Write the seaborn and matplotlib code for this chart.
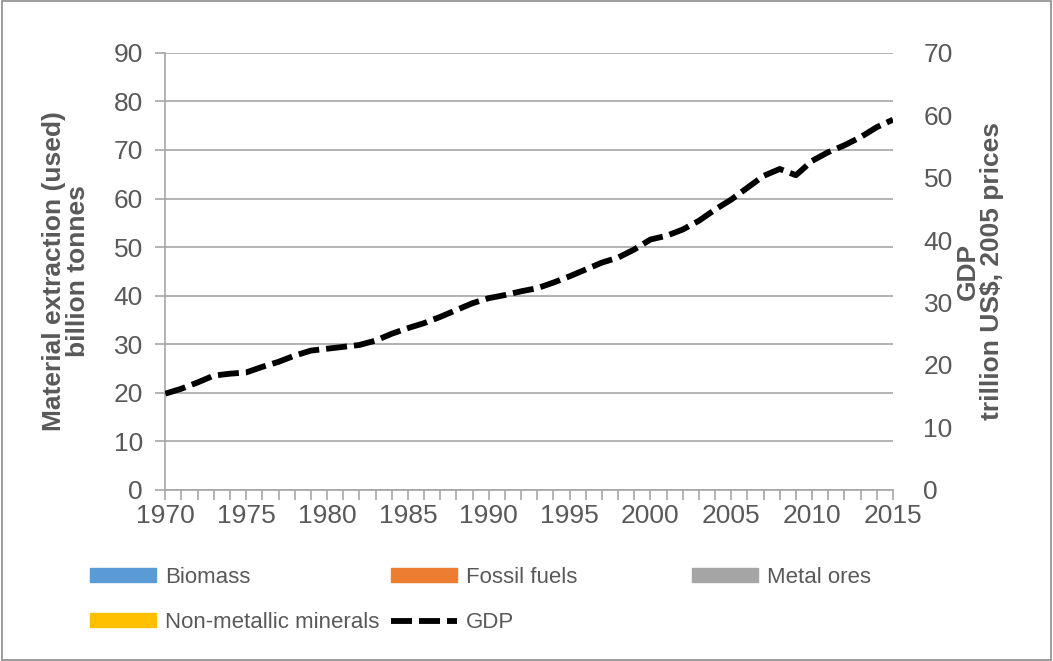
import numpy as np
import pandas as pd
import matplotlib
matplotlib.use("Agg")
import matplotlib.pyplot as plt
import matplotlib.patches as mpatches
import matplotlib.lines as mlines
import seaborn as sns

# DATA
years = list(range(1970, 2016))
gdp = [15.4, 16.2, 17.2, 18.3, 18.6, 18.8, 19.7, 20.5, 21.5, 22.3,
       22.6, 22.9, 23.2, 23.9, 25.0, 25.9, 26.7, 27.7, 28.8, 29.9,
       30.7, 31.2, 31.8, 32.3, 33.2, 34.2, 35.3, 36.4, 37.2, 38.5,
       40.1, 40.7, 41.7, 43.1, 44.9, 46.5, 48.4, 50.3, 51.4, 50.4,
       52.7, 54.1, 55.2, 56.5, 58.1, 59.3]
materials = ["Biomass", "Fossil fuels", "Metal ores", "Non-metallic minerals"]
material_colors = ["#5b9bd5", "#ed7d31", "#a5a5a5", "#ffc000"]
left_ticks = list(range(0, 91, 10))
right_ticks = list(range(0, 71, 10))
x_ticks = list(range(1970, 2016, 5))

df = pd.DataFrame({"year": years, "gdp": gdp})

# STYLE
sns.set_theme(style="white")
plt.rcParams["font.family"] = ["Liberation Sans", "DejaVu Sans"]
TXT = "#595959"
GRID = "#a6a6a6"
DASH = (3.6, 1.2)
LW = 4.2

fig = plt.figure(figsize=(10.53, 6.61), dpi=100)
ax = fig.add_axes([0.157, 0.259, 0.691, 0.661])
ax2 = ax.twinx()

# left axis (material extraction - no series drawn)
ax.set_xlim(1970, 2015)
ax.set_ylim(0, 90)
ax.set_yticks(left_ticks)
ax.set_xticks(x_ticks)
ax.set_xticks(years, minor=True)
ax.yaxis.grid(True, color=GRID, linewidth=1.2)
ax.xaxis.grid(False)
for s in ["top", "right"]:
    ax.spines[s].set_visible(False)
for s in ["left", "bottom"]:
    ax.spines[s].set_color(GRID)
    ax.spines[s].set_linewidth(1.2)
ax.tick_params(axis="y", which="major", direction="out", length=7, width=1.2,
               color=GRID, labelsize=19, labelcolor=TXT, pad=9, left=True)
ax.tick_params(axis="x", which="both", direction="out", length=7, width=1.2,
               color=GRID, labelsize=19, labelcolor=TXT, pad=3, bottom=True)
ax.set_ylabel("Material extraction (used)\nbillion tonnes", fontsize=19,
              fontweight="bold", color=TXT, labelpad=17, linespacing=1.0)

# right axis (GDP)
sns.lineplot(data=df, x="year", y="gdp", ax=ax2, color="black",
             linewidth=LW, legend=False)
ax2.lines[0].set_dashes(DASH)
ax2.set_ylim(0, 70)
ax2.set_yticks(right_ticks)
ax2.set_xlim(1970, 2015)
for s in ["top", "left", "bottom", "right"]:
    ax2.spines[s].set_visible(False)
ax2.tick_params(axis="y", length=0, labelsize=19, labelcolor=TXT, pad=22, right=True)
ax2.set_ylabel("GDP\ntrillion US\\$, 2005 prices", fontsize=19,
               fontweight="bold", color=TXT, labelpad=2, linespacing=1.0)
ax2.set_xlabel("")
ax.set_xlabel("")

# legend: one entry per slot, laid out like the reference rows
patches = [mpatches.Patch(color=c, label=m) for m, c in zip(materials, material_colors)]
gdp_handle = mlines.Line2D([], [], color="black", linewidth=LW,
                           dashes=DASH, label="GDP")
slots = [(patches[0], 0.085, 0.126), (patches[1], 0.371, 0.126),
         (patches[2], 0.657, 0.126), (patches[3], 0.085, 0.058),
         (gdp_handle, 0.371, 0.058)]
for h, lx, ly in slots:
    fig.legend(handles=[h], labels=[h.get_label()], loc="center left",
               bbox_to_anchor=(lx, ly), frameon=False, fontsize=16,
               labelcolor=TXT, handlelength=3.0, handleheight=0.6,
               handletextpad=0.4, borderpad=0, borderaxespad=0)

# outer frame
fig.patches.append(mpatches.Rectangle((0.002, 0.002), 0.996, 0.996,
                                      transform=fig.transFigure, fill=False,
                                      edgecolor="#8c8c8c", linewidth=1.2))

fig.savefig("out.png", dpi=100)
